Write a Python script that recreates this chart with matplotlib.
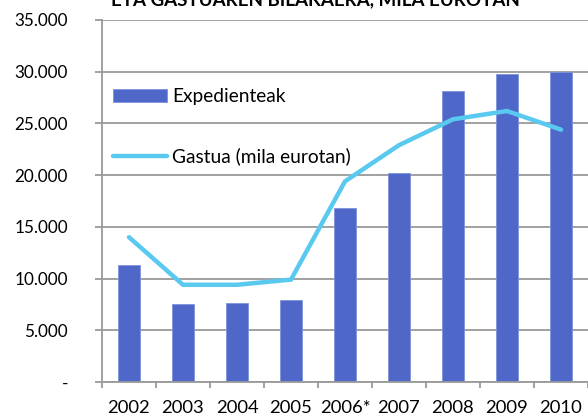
import matplotlib
matplotlib.use("Agg")
import matplotlib.pyplot as plt
from matplotlib.ticker import FuncFormatter, MultipleLocator

plt.rcParams['font.family'] = ['Lato', 'DejaVu Sans']

years = ["2002", "2003", "2004", "2005", "2006*", "2007", "2008", "2009", "2010"]
expedienteak = [11300, 7500, 7600, 7900, 16800, 20200, 28100, 29800, 30000]
gastua = [14000, 9400, 9400, 9900, 19400, 22900, 25400, 26200, 24400]

bar_color = "#4F67C9"
line_color = "#59C9F0"
grid_color = "#9A9A9A"

fig = plt.figure(figsize=(5.88, 4.17), dpi=100)
ax = fig.add_axes([102 / 588, 1 - 382 / 417, 486 / 588, 362 / 417])

x = list(range(len(years)))
bars = ax.bar(x, expedienteak, width=0.39, color=bar_color, edgecolor="#7F93DA",
              linewidth=0.6, label="Expedienteak", zorder=2)
line, = ax.plot(x, gastua, color=line_color, linewidth=3.2, solid_capstyle="round",
                solid_joinstyle="miter", label="Gastua (mila eurotan)", zorder=3)

ax.set_xlim(-0.5, len(years) - 0.5)
ax.set_ylim(0, 35000)
ax.yaxis.set_major_locator(MultipleLocator(5000))

def fmt(v, pos):
    if v == 0:
        return "-"
    return "{:,.0f}".format(v).replace(",", ".")

ax.yaxis.set_major_formatter(FuncFormatter(fmt))
ax.grid(axis="y", color=grid_color, linewidth=1.3, zorder=0)
ax.set_axisbelow(True)

# ticks between categories, labels centered
ax.set_xticks([i - 0.5 for i in range(len(years) + 1)])
ax.set_xticklabels([])
ax.set_xticks(x, minor=True)
ax.set_xticklabels(years, minor=True)
ax.tick_params(axis="x", which="major", length=4.5, width=1.3, color=grid_color)
ax.tick_params(axis="x", which="minor", length=0, pad=13, labelsize=13.3)
ax.tick_params(axis="y", length=5, width=1.3, color=grid_color, pad=19.5, labelsize=12.3)

for s in ["top", "right"]:
    ax.spines[s].set_visible(False)
for s in ["left", "bottom"]:
    ax.spines[s].set_color(grid_color)
    ax.spines[s].set_linewidth(1.3)

ax.legend([bars, line], ["Expedienteak", "Gastua (mila eurotan)"],
          loc="upper left", bbox_to_anchor=(0.023, 0.812), frameon=False,
          fontsize=13.8, handlelength=2.8, handleheight=0.65, handletextpad=0.27,
          labelspacing=2.2, borderpad=0, borderaxespad=0)

# title mostly cut off at the top of the image
fig.text(315 / 588, 1 - 5 / 417, "ETA GASTUAREN BILAKAERA, MILA EUROTAN",
         ha="center", va="baseline", fontsize=13.5, fontweight="bold")

fig.savefig("out.png", dpi=100)
